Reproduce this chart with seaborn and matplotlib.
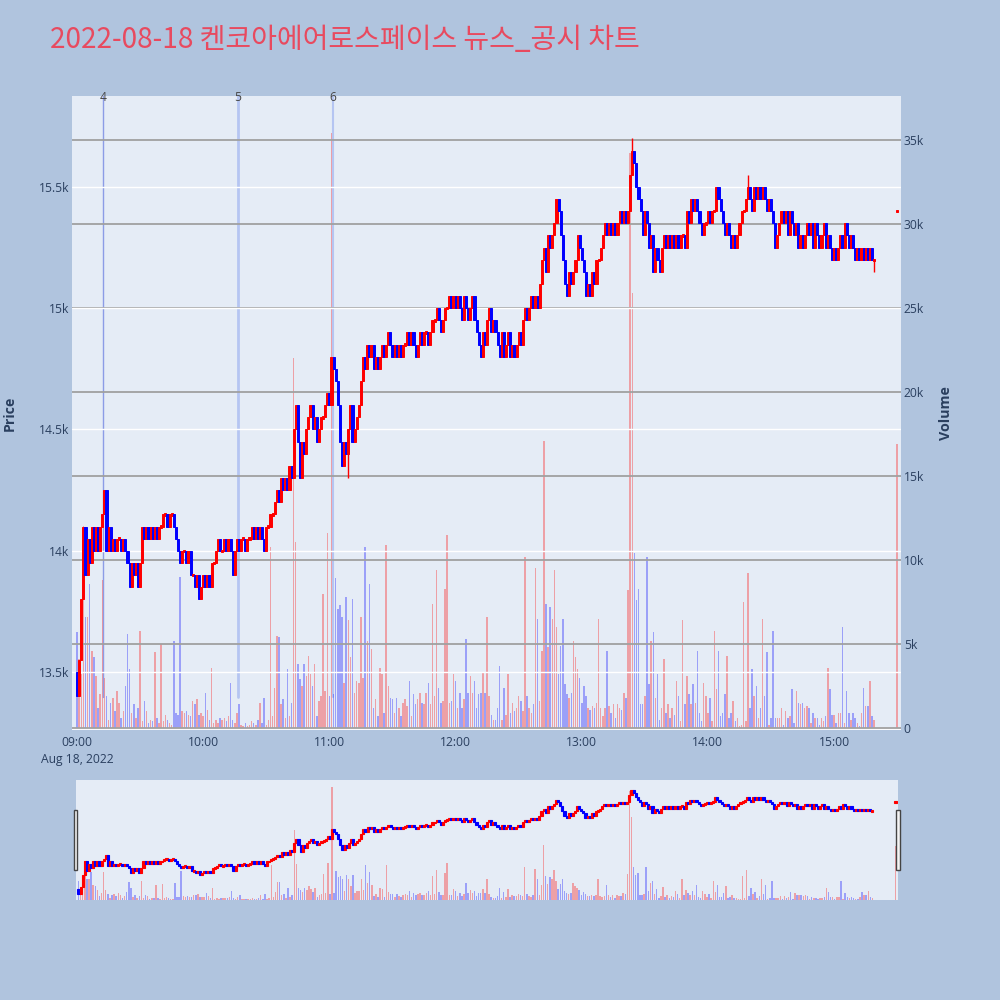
import numpy as np
import pandas as pd
import seaborn as sns
import matplotlib
matplotlib.use("Agg")
import matplotlib.pyplot as plt
from matplotlib.patches import Rectangle

# minute closes from 09:00 (one per minute, open = previous close)
first_open = 13500
close_prices = [
    13400, 13550, 13800, 14100, 13900, 14050, 13950, 14100, 14000, 14100,
    14000, 14100, 14150, 14250, 14000, 14100, 14000, 14050, 14000, 14050,
    14050, 14000, 14050, 14000, 13950, 13850, 13950, 13900, 13950, 13850,
    13950, 14100, 14050, 14100, 14050, 14100, 14050, 14100, 14050, 14100,
    14100, 14150, 14150, 14100, 14150, 14150, 14100, 14050, 14000, 13950,
    14000, 14000, 13950, 14000, 13900, 13900, 13850, 13900, 13800, 13850,
    13900, 13850, 13900, 13850, 13950, 13950, 14000, 14050, 14000, 14000,
    14050, 14000, 14050, 14000, 13900, 14000, 14050, 14000, 14050, 14050,
    14000, 14050, 14050, 14100, 14050, 14100, 14050, 14100, 14050, 14000,
    14100, 14100, 14150, 14150, 14200, 14250, 14200, 14300, 14250, 14300,
    14250, 14350, 14300, 14500, 14600, 14450, 14300, 14450, 14400, 14500,
    14550, 14600, 14500, 14550, 14450, 14500, 14550, 14550, 14600, 14650,
    14600, 14800, 14750, 14700, 14600, 14450, 14350, 14450, 14400, 14500,
    14600, 14450, 14500, 14550, 14600, 14700, 14800, 14750, 14850, 14800,
    14850, 14750, 14800, 14750, 14800, 14850, 14800, 14850, 14900, 14850,
    14800, 14850, 14800, 14850, 14800, 14850, 14850, 14900, 14850, 14900,
    14850, 14800, 14850, 14900, 14850, 14900, 14900, 14850, 14900, 14950,
    14950, 15000, 14950, 14900, 14950, 15000, 15000, 15050, 15000, 15050,
    15000, 15050, 15000, 14950, 15050, 15000, 14950, 15000, 15050, 14950,
    14900, 14850, 14800, 14900, 14850, 14950, 15000, 14900, 14950, 14900,
    14850, 14800, 14900, 14800, 14850, 14900, 14800, 14850, 14800, 14850,
    14900, 14850, 14950, 15000, 14950, 15000, 15050, 15000, 15050, 15000,
    15100, 15200, 15250, 15150, 15300, 15250, 15300, 15350, 15450, 15400,
    15300, 15200, 15100, 15050, 15150, 15100, 15150, 15200, 15300, 15250,
    15200, 15150, 15050, 15100, 15050, 15150, 15100, 15200, 15200, 15250,
    15300, 15350, 15300, 15350, 15300, 15350, 15300, 15350, 15400, 15350,
    15400, 15350, 15400, 15550, 15650, 15600, 15500, 15450, 15400, 15300,
    15400, 15350, 15250, 15300, 15150, 15250, 15200, 15150, 15250, 15300,
    15250, 15300, 15250, 15300, 15250, 15300, 15250, 15300, 15300, 15250,
    15400, 15350, 15450, 15400, 15450, 15400, 15350, 15300, 15350, 15350,
    15400, 15350, 15400, 15400, 15500, 15450, 15400, 15350, 15300, 15350,
    15300, 15250, 15300, 15250, 15300, 15350, 15400, 15400, 15450, 15500,
    15450, 15400, 15500, 15450, 15500, 15450, 15500, 15450, 15400, 15450,
    15400, 15350, 15250, 15300, 15350, 15400, 15350, 15400, 15300, 15400,
    15350, 15300, 15350, 15250, 15300, 15250, 15300, 15350, 15300, 15350,
    15250, 15350, 15300, 15250, 15300, 15350, 15250, 15300, 15250, 15200,
    15250, 15200, 15250, 15300, 15250, 15350, 15300, 15250, 15300, 15250,
    15200, 15250, 15200, 15250, 15200, 15250, 15200, 15250, 15200, 15200,
]

# volume per minute, in thousands of shares
volume_k = [
    5.7, 4.1, 3.2, 12.0, 6.6, 6.6, 8.6, 4.6, 4.2, 3.1,
    1.2, 2.0, 8.8, 3.0, 1.9, 0.5, 1.5, 1.8, 1.0, 2.2,
    1.5, 0.6, 1.0, 2.5, 5.6, 3.5, 0.9, 1.4, 0.6, 1.2,
    5.8, 0.4, 1.6, 1.0, 0.3, 0.5, 0.4, 4.5, 0.6, 0.3,
    5.0, 0.4, 0.8, 0.5, 0.3, 0.2, 5.2, 0.9, 0.8, 9.0,
    1.0, 0.9, 1.0, 0.8, 0.7, 1.6, 1.4, 1.7, 0.8, 0.9,
    0.7, 2.1, 1.1, 0.5, 3.6, 0.3, 0.5, 0.3, 0.6, 0.5,
    0.6, 0.4, 0.7, 2.7, 0.5, 0.3, 0.9, 1.4, 0.2, 0.1,
    0.3, 0.1, 0.2, 0.4, 0.3, 0.2, 0.5, 1.5, 0.3, 1.8,
    0.2, 0.5, 10.8, 0.7, 2.4, 5.5, 5.4, 1.4, 1.7, 0.6,
    3.5, 0.7, 1.5, 22.0, 11.1, 3.8, 2.9, 2.5, 3.8, 3.1,
    4.3, 3.2, 2.5, 3.8, 0.7, 1.6, 1.9, 8.0, 2.2, 11.6,
    1.9, 35.4, 2.0, 8.9, 7.1, 7.3, 6.6, 2.7, 7.8, 6.4,
    4.2, 7.7, 2.1, 2.8, 2.7, 6.6, 3.0, 10.8, 5.2, 8.6,
    4.7, 1.2, 1.7, 0.7, 3.6, 3.2, 0.9, 10.9, 2.5, 1.8,
    1.7, 0.9, 1.8, 1.2, 0.7, 1.5, 1.7, 1.3, 2.8, 0.7,
    2.0, 1.4, 1.7, 2.1, 1.5, 1.4, 2.1, 2.7, 1.4, 7.4,
    1.9, 9.4, 2.4, 1.5, 1.6, 8.3, 11.5, 1.5, 1.6, 3.2,
    2.8, 1.2, 2.1, 1.2, 1.7, 5.3, 2.1, 3.1, 2.1, 2.8,
    1.2, 2.0, 2.1, 3.3, 2.1, 6.6, 1.9, 0.8, 0.5, 0.5,
    1.2, 3.7, 0.5, 2.4, 0.8, 3.2, 0.9, 1.5, 1.0, 1.2,
    1.9, 1.6, 1.0, 10.2, 1.9, 1.2, 0.9, 1.4, 9.5, 6.5,
    1.6, 4.6, 17.1, 7.4, 4.8, 7.2, 6.5, 9.4, 6.0, 3.2,
    4.9, 6.5, 2.6, 2.0, 1.8, 2.1, 5.2, 4.2, 3.5, 3.0,
    1.5, 2.5, 1.9, 1.2, 1.1, 1.3, 1.2, 1.5, 6.5, 1.2,
    0.7, 1.2, 4.6, 1.3, 0.9, 1.4, 0.6, 1.4, 1.2, 1.1,
    2.1, 1.8, 8.2, 34.2, 25.9, 10.4, 7.6, 8.3, 1.4, 1.4,
    1.9, 10.2, 2.6, 5.2, 5.7, 1.8, 3.2, 0.5, 1.2, 4.1,
    0.9, 1.4, 0.6, 1.2, 0.8, 2.8, 1.9, 0.4, 6.4, 1.4,
    3.1, 2.0, 1.4, 2.6, 1.5, 4.6, 0.9, 0.4, 2.7, 1.9,
    0.9, 1.8, 0.4, 5.8, 2.3, 4.6, 0.7, 0.9, 2.0, 4.3,
    0.6, 0.9, 1.6, 0.4, 0.6, 0.1, 0.2, 7.5, 0.4, 9.2,
    1.2, 3.5, 1.9, 2.5, 0.6, 1.2, 6.5, 1.9, 4.5, 0.2,
    0.6, 5.8, 0.6, 0.6, 0.6, 1.2, 0.2, 1.0, 0.6, 0.7,
    2.3, 0.3, 2.2, 1.5, 1.4, 1.5, 1.2, 1.3, 1.2, 0.3,
    0.9, 0.6, 0.6, 0.2, 0.6, 0.4, 0.7, 3.6, 2.3, 0.8,
    0.8, 0.3, 0.9, 0.9, 6.0, 0.3, 2.2, 0.9, 0.5, 0.9,
    0.6, 0.3, 0.1, 0.9, 2.4, 1.3, 1.3, 2.8, 0.7, 0.5,
]

# closing auction (15:30)
close_auction_minute = 390
close_auction_price = 15400
close_auction_volume_k = 16.9

# a few visible wicks: minute -> extreme price
wick_minutes = [13, 104, 129, 221, 228, 264, 304, 319, 379]
wick_prices = [14250, 14600, 14300, 15200, 15450, 15700, 15500, 15550, 15150]

# news markers
news_minutes = [12.4, 76.6, 121.5]
news_labels = ["4", "5", "6"]
news_colors = ["#8c9ce6", "#b5c5f2", "#b5c5f2"]
news_widths = [1.0, 2.0, 1.5]

hour_ticks = [0, 60, 120, 180, 240, 300, 360]
hour_labels = ["09:00\nAug 18, 2022", "10:00", "11:00", "12:00", "13:00", "14:00", "15:00"]
price_ticks = [13500, 14000, 14500, 15000, 15500]
price_labels = ["13.5k", "14k", "14.5k", "15k", "15.5k"]
volume_ticks = [0, 5000, 10000, 15000, 20000, 25000, 30000, 35000]
volume_labels = ["0", "5k", "10k", "15k", "20k", "25k", "30k", "35k"]

UP = "#ff0000"
DOWN = "#0000ff"
PLOT_BG = "#e5ecf6"
PAPER_BG = "#b0c4de"
TEXT = "#2a3f5f"

n = len(close_prices)
df = pd.DataFrame({
    "minute": np.arange(n),
    "open": [first_open] + close_prices[:-1],
    "close": close_prices,
    "volume": np.array(volume_k) * 1000,
})
df = pd.concat([df, pd.DataFrame({
    "minute": [close_auction_minute],
    "open": [close_auction_price],
    "close": [close_auction_price],
    "volume": [close_auction_volume_k * 1000],
})], ignore_index=True)
df["dir"] = np.where(df["close"] >= df["open"], "up", "down")

price_lim = (13261, 15875)
vol_lim = (-120, 37620)

sns.set_theme(style="white")
plt.rcParams["font.family"] = ["Open Sans", "Noto Sans CJK KR", "DejaVu Sans"]

fig = plt.figure(figsize=(10, 10), dpi=100)
fig.patch.set_facecolor(PAPER_BG)


def draw_panel(ax_v, ax_p, body_min, wicks, cw, elw):
    # volume bars underneath, candles on top
    sns.barplot(data=df, x="minute", y="volume", hue="dir",
                palette={"up": UP, "down": DOWN}, native_scale=True,
                dodge=False, width=0.7, saturation=1, alpha=0.32,
                errorbar=None, legend=False, linewidth=0, antialiased=False,
                ax=ax_v)
    body = (df["close"] - df["open"]).to_numpy(dtype=float)
    small = np.abs(body) < body_min
    lo = np.minimum(df["open"], df["close"]).to_numpy(dtype=float)
    heights = np.where(small, body_min, body)
    bottoms = np.where(small, lo - body_min / 2, df["open"].to_numpy(dtype=float))
    colors = np.where(df["dir"] == "up", UP, DOWN)
    ax_p.bar(df["minute"], heights, bottom=bottoms, width=cw,
             color=colors, edgecolor=colors, linewidth=elw, zorder=3)
    if wicks:
        wc = df.set_index("minute")
        for m, p in zip(wick_minutes, wick_prices):
            ax_p.vlines(m, wc.loc[m, "close"], p, color=colors[m], lw=1.0, zorder=3)
    ax_v.set_ylim(*vol_lim)
    ax_p.set_ylim(*price_lim)
    ax_v.set_xlabel("")
    ax_v.set_ylabel("")
    ax_p.set_ylabel("")
    for a in (ax_v, ax_p):
        for s in a.spines.values():
            s.set_visible(False)


# main chart
ax_v = fig.add_axes([0.072, 0.27, 0.829, 0.634])
ax_v.set_facecolor(PLOT_BG)
ax_p = ax_v.twinx()
draw_panel(ax_v, ax_p, 10, True, 1.0, 0.7)
ax_v.set_xlim(-2.4, 391.8)

ax_v.yaxis.tick_right()
ax_v.set_yticks(volume_ticks)
ax_v.set_yticklabels(volume_labels)
ax_v.grid(axis="y", color="#a0a0a0", lw=1.3)
ax_v.grid(axis="x", visible=False)
ax_v.set_axisbelow(False)
ax_v.axhline(0, color="white", lw=2, zorder=0.5)

ax_p.yaxis.tick_left()
ax_p.set_yticks(price_ticks)
ax_p.set_yticklabels(price_labels)
ax_p.grid(axis="y", color="white", lw=1.0)
ax_p.set_axisbelow(True)

ax_v.set_xticks(hour_ticks)
ax_v.set_xticklabels(hour_labels, linespacing=1.35)
ax_v.tick_params(axis="x", length=0, pad=4.5, labelsize=8.7, labelcolor=TEXT)
ax_v.tick_params(axis="y", length=0, pad=2, labelsize=8.7, labelcolor=TEXT,
                 right=True, left=False, labelright=True, labelleft=False)
ax_p.tick_params(axis="y", length=0, pad=2, labelsize=8.7, labelcolor=TEXT,
                 left=True, right=False, labelleft=True, labelright=False)

for m, lab, c, w in zip(news_minutes, news_labels, news_colors, news_widths):
    ax_v.axvline(m, ymin=0.052, ymax=1.0, color=c, lw=w, zorder=0.8)
    ax_v.text(m, 0.998, lab, transform=ax_v.get_xaxis_transform(),
              ha="center", va="center", fontsize=8.7, color="#444444")

# range slider
rs_v = fig.add_axes([0.076, 0.100, 0.822, 0.120])
rs_v.set_facecolor(PLOT_BG)
rs_p = rs_v.twinx()
draw_panel(rs_v, rs_p, 40, False, 1.0, 0.8)
rs_v.set_xlim(-1.2, 391.2)
for a in (rs_v, rs_p):
    a.set_xticks([])
    a.set_yticks([])
    a.grid(False)

for x0 in (0.0735, 0.8960):
    fig.patches.append(Rectangle((x0, 0.130), 0.0038, 0.060,
                                 transform=fig.transFigure, facecolor="#f4f4f4",
                                 edgecolor="#444444", lw=1.0, zorder=5))

fig.text(0.050, 0.960, "2022-08-18 켄코아에어로스페이스 뉴스_공시 차트",
         ha="left", va="center", fontsize=20.2, color="#e84a5f",
         family=["Noto Sans CJK KR", "DejaVu Sans"])
fig.text(0.010, 0.587, "Price", rotation=90, ha="center", va="center",
         fontsize=10.3, fontweight="bold", color=TEXT)
fig.text(0.946, 0.587, "Volume", rotation=90, ha="center", va="center",
         fontsize=10.3, fontweight="bold", color=TEXT)

fig.savefig("out.png", dpi=100, facecolor=PAPER_BG)
